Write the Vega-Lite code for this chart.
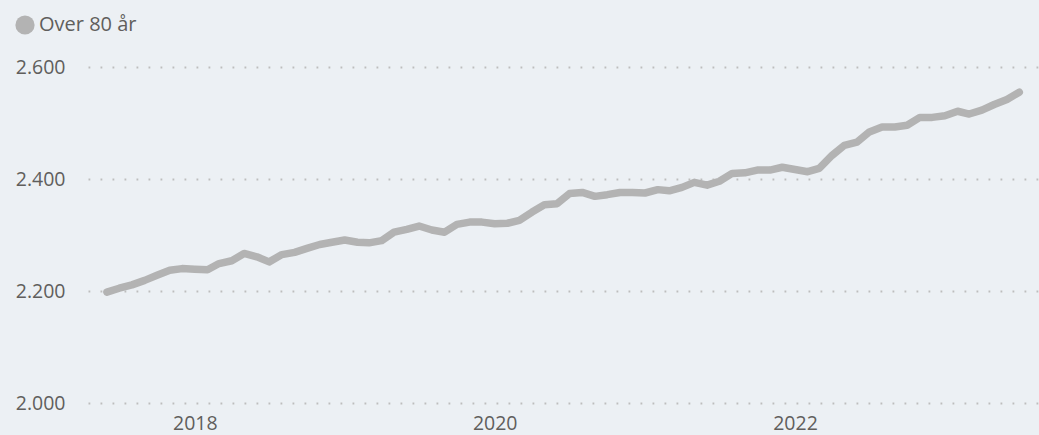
{
  "$schema": "https://vega.github.io/schema/vega-lite/v6.json",
  "width": 951,
  "height": 336,
  "autosize": "none",
  "padding": {"left": 88, "top": 67, "right": 0, "bottom": 32},
  "background": "#ECF0F4",
  "config": {
    "view": {"stroke": null},
    "font": "Open Sans"
  },
  "data": {
    "values": [
      {"dato": "2017-06-01", "antal": 2198, "serie": "Over 80 år"},
      {"dato": "2017-07-01", "antal": 2205, "serie": "Over 80 år"},
      {"dato": "2017-08-01", "antal": 2211, "serie": "Over 80 år"},
      {"dato": "2017-09-01", "antal": 2219, "serie": "Over 80 år"},
      {"dato": "2017-10-01", "antal": 2228, "serie": "Over 80 år"},
      {"dato": "2017-11-01", "antal": 2237, "serie": "Over 80 år"},
      {"dato": "2017-12-01", "antal": 2240, "serie": "Over 80 år"},
      {"dato": "2018-01-01", "antal": 2239, "serie": "Over 80 år"},
      {"dato": "2018-02-01", "antal": 2238, "serie": "Over 80 år"},
      {"dato": "2018-03-01", "antal": 2249, "serie": "Over 80 år"},
      {"dato": "2018-04-01", "antal": 2254, "serie": "Over 80 år"},
      {"dato": "2018-05-01", "antal": 2267, "serie": "Over 80 år"},
      {"dato": "2018-06-01", "antal": 2261, "serie": "Over 80 år"},
      {"dato": "2018-07-01", "antal": 2252, "serie": "Over 80 år"},
      {"dato": "2018-08-01", "antal": 2265, "serie": "Over 80 år"},
      {"dato": "2018-09-01", "antal": 2269, "serie": "Over 80 år"},
      {"dato": "2018-10-01", "antal": 2276, "serie": "Over 80 år"},
      {"dato": "2018-11-01", "antal": 2283, "serie": "Over 80 år"},
      {"dato": "2018-12-01", "antal": 2287, "serie": "Over 80 år"},
      {"dato": "2019-01-01", "antal": 2291, "serie": "Over 80 år"},
      {"dato": "2019-02-01", "antal": 2287, "serie": "Over 80 år"},
      {"dato": "2019-03-01", "antal": 2286, "serie": "Over 80 år"},
      {"dato": "2019-04-01", "antal": 2290, "serie": "Over 80 år"},
      {"dato": "2019-05-01", "antal": 2305, "serie": "Over 80 år"},
      {"dato": "2019-06-01", "antal": 2310, "serie": "Over 80 år"},
      {"dato": "2019-07-01", "antal": 2316, "serie": "Over 80 år"},
      {"dato": "2019-08-01", "antal": 2309, "serie": "Over 80 år"},
      {"dato": "2019-09-01", "antal": 2305, "serie": "Over 80 år"},
      {"dato": "2019-10-01", "antal": 2319, "serie": "Over 80 år"},
      {"dato": "2019-11-01", "antal": 2323, "serie": "Over 80 år"},
      {"dato": "2019-12-01", "antal": 2323, "serie": "Over 80 år"},
      {"dato": "2020-01-01", "antal": 2320, "serie": "Over 80 år"},
      {"dato": "2020-02-01", "antal": 2321, "serie": "Over 80 år"},
      {"dato": "2020-03-01", "antal": 2326, "serie": "Over 80 år"},
      {"dato": "2020-04-01", "antal": 2341, "serie": "Over 80 år"},
      {"dato": "2020-05-01", "antal": 2354, "serie": "Over 80 år"},
      {"dato": "2020-06-01", "antal": 2356, "serie": "Over 80 år"},
      {"dato": "2020-07-01", "antal": 2374, "serie": "Over 80 år"},
      {"dato": "2020-08-01", "antal": 2376, "serie": "Over 80 år"},
      {"dato": "2020-09-01", "antal": 2369, "serie": "Over 80 år"},
      {"dato": "2020-10-01", "antal": 2372, "serie": "Over 80 år"},
      {"dato": "2020-11-01", "antal": 2376, "serie": "Over 80 år"},
      {"dato": "2020-12-01", "antal": 2376, "serie": "Over 80 år"},
      {"dato": "2021-01-01", "antal": 2375, "serie": "Over 80 år"},
      {"dato": "2021-02-01", "antal": 2381, "serie": "Over 80 år"},
      {"dato": "2021-03-01", "antal": 2379, "serie": "Over 80 år"},
      {"dato": "2021-04-01", "antal": 2385, "serie": "Over 80 år"},
      {"dato": "2021-05-01", "antal": 2394, "serie": "Over 80 år"},
      {"dato": "2021-06-01", "antal": 2389, "serie": "Over 80 år"},
      {"dato": "2021-07-01", "antal": 2396, "serie": "Over 80 år"},
      {"dato": "2021-08-01", "antal": 2410, "serie": "Over 80 år"},
      {"dato": "2021-09-01", "antal": 2411, "serie": "Over 80 år"},
      {"dato": "2021-10-01", "antal": 2416, "serie": "Over 80 år"},
      {"dato": "2021-11-01", "antal": 2416, "serie": "Over 80 år"},
      {"dato": "2021-12-01", "antal": 2421, "serie": "Over 80 år"},
      {"dato": "2022-01-01", "antal": 2417, "serie": "Over 80 år"},
      {"dato": "2022-02-01", "antal": 2413, "serie": "Over 80 år"},
      {"dato": "2022-03-01", "antal": 2419, "serie": "Over 80 år"},
      {"dato": "2022-04-01", "antal": 2442, "serie": "Over 80 år"},
      {"dato": "2022-05-01", "antal": 2460, "serie": "Over 80 år"},
      {"dato": "2022-06-01", "antal": 2466, "serie": "Over 80 år"},
      {"dato": "2022-07-01", "antal": 2484, "serie": "Over 80 år"},
      {"dato": "2022-08-01", "antal": 2493, "serie": "Over 80 år"},
      {"dato": "2022-09-01", "antal": 2493, "serie": "Over 80 år"},
      {"dato": "2022-10-01", "antal": 2496, "serie": "Over 80 år"},
      {"dato": "2022-11-01", "antal": 2510, "serie": "Over 80 år"},
      {"dato": "2022-12-01", "antal": 2510, "serie": "Over 80 år"},
      {"dato": "2023-01-01", "antal": 2513, "serie": "Over 80 år"},
      {"dato": "2023-02-01", "antal": 2521, "serie": "Over 80 år"},
      {"dato": "2023-03-01", "antal": 2516, "serie": "Over 80 år"},
      {"dato": "2023-04-01", "antal": 2523, "serie": "Over 80 år"},
      {"dato": "2023-05-01", "antal": 2533, "serie": "Over 80 år"},
      {"dato": "2023-06-01", "antal": 2542, "serie": "Over 80 år"},
      {"dato": "2023-07-01", "antal": 2555, "serie": "Over 80 år"}
    ]
  },
  "mark": {"type": "line", "strokeWidth": 7.5, "strokeCap": "round", "strokeJoin": "round", "interpolate": "linear"},
  "encoding": {
    "x": {
      "field": "dato",
      "type": "temporal",
      "scale": {"domain": ["2017-04-16", "2023-08-18"], "nice": false},
      "axis": {
        "title": null,
        "values": ["2018-01-01", "2020-01-01", "2022-01-01"],
        "format": "%Y",
        "domain": false,
        "ticks": false,
        "grid": false,
        "labelFontSize": 19.5,
        "labelColor": "#605E5C",
        "labelPadding": 11,
        "labelFlush": false
      }
    },
    "y": {
      "field": "antal",
      "type": "quantitative",
      "scale": {"domain": [2000, 2600], "nice": false, "zero": false},
      "axis": {
        "title": null,
        "values": [2000, 2200, 2400, 2600],
        "format": ",.0f",
        "labelExpr": "replace(datum.label, ',', '.')",
        "domain": false,
        "ticks": false,
        "grid": true,
        "gridColor": "#BDBDBD",
        "gridWidth": 1.8,
        "gridDash": [1.8, 10.2],
        "labelFontSize": 19.5,
        "labelColor": "#605E5C",
        "labelPadding": 23,
        "labelFlush": false
      }
    },
    "color": {
      "field": "serie",
      "type": "nominal",
      "scale": {"range": ["#B3B3B3"]},
      "legend": {
        "title": null,
        "orient": "none",
        "legendX": -73,
        "legendY": -52,
        "symbolType": "circle",
        "symbolSize": 370,
        "symbolFillColor": "#B3B3B3",
        "symbolStrokeWidth": 0,
        "symbolOpacity": 1,
        "labelFontSize": 20,
        "labelColor": "#605E5C",
        "labelOffset": 4,
        "padding": 0
      }
    }
  }
}
